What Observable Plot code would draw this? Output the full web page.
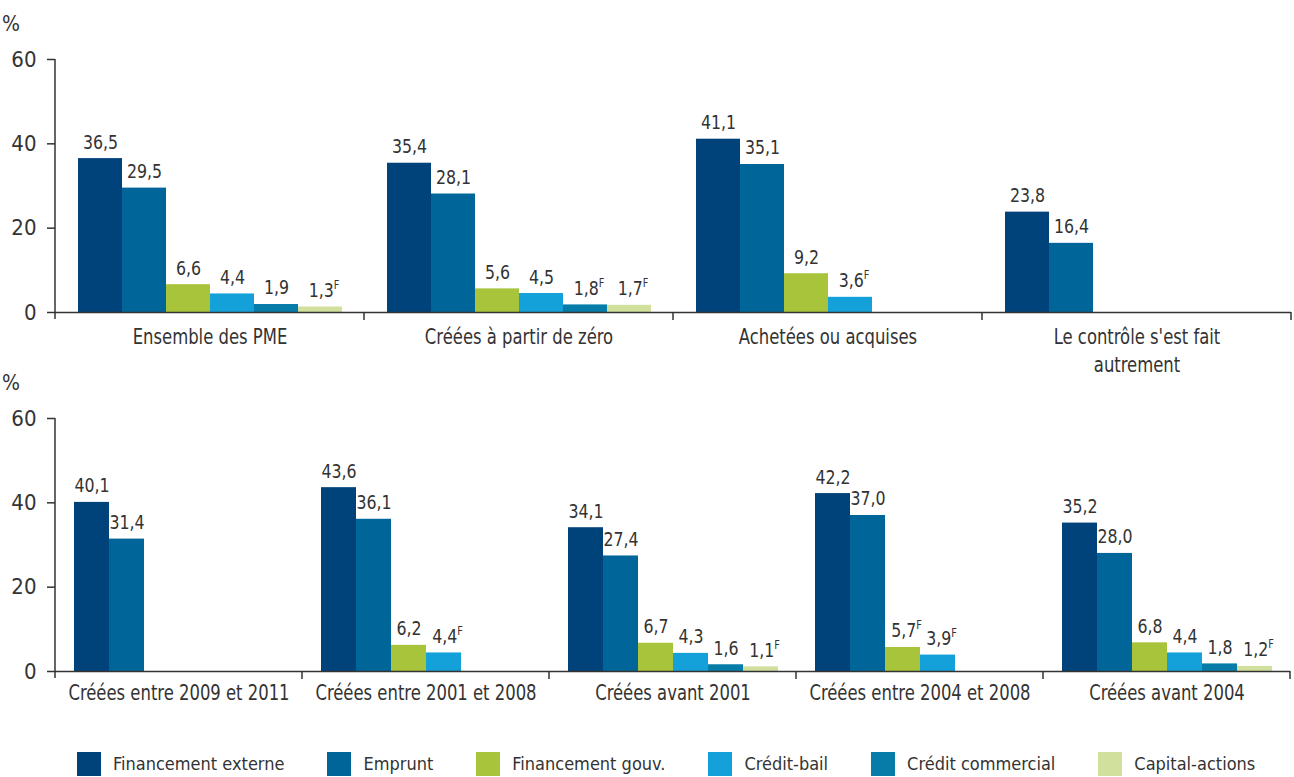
<!DOCTYPE html>
<html><head><meta charset="utf-8">
<script src="https://cdn.jsdelivr.net/npm/d3@7"></script>
<script src="https://cdn.jsdelivr.net/npm/@observablehq/plot@0.6"></script>
<style>
html,body{margin:0;padding:0;background:#fff;}
#wrap{width:1294px;height:777px;overflow:hidden;position:relative;background:#fff;}
#wrap svg{display:block}
#legend{position:absolute;left:0;top:747px;width:1400px;}
.leg-swatches{margin:0 !important;padding-left:77px;}
.leg-swatches-wrap{flex-wrap:nowrap !important;}
.leg-swatches-wrap .leg-swatch{margin-right:43px !important;white-space:nowrap;}
.leg-swatch > svg{margin-right:12px !important;}
</style>
</head><body><div id="wrap"><div id="c1"></div><div id="c2"></div><div id="legend"></div></div>
<script>
const FONT = '"Liberation Sans Narrow", "DejaVu Sans Condensed", "Roboto Condensed", sans-serif';
const INK = "#333333";

const series = ["Financement externe", "Emprunt", "Financement gouv.", "Crédit-bail", "Crédit commercial", "Capital-actions"];
const colors = ["#00427a", "#00669a", "#a8c43b", "#14a1da", "#087ca8", "#d1e09c"];
const yTicks = [0, 20, 40, 60];

// Top panel
const topGroups = ["Ensemble des PME", "Créées à partir de zéro", "Achetées ou acquises", "Le contrôle s'est fait\nautrement"];
const topValues = [
  [36.5, 29.5, 6.6, 4.4, 1.9, 1.3],
  [35.4, 28.1, 5.6, 4.5, 1.8, 1.7],
  [41.1, 35.1, 9.2, 3.6, null, null],
  [23.8, 16.4, null, null, null, null]
];
const topFlags = [
  [0, 0, 0, 0, 0, 1],
  [0, 0, 0, 0, 1, 1],
  [0, 0, 0, 1, 0, 0],
  [0, 0, 0, 0, 0, 0]
];

// Bottom panel
const bottomGroups = ["Créées entre 2009 et 2011", "Créées entre 2001 et 2008", "Créées avant 2001", "Créées entre 2004 et 2008", "Créées avant 2004"];
const bottomValues = [
  [40.1, 31.4, null, null, null, null],
  [43.6, 36.1, 6.2, 4.4, null, null],
  [34.1, 27.4, 6.7, 4.3, 1.6, 1.1],
  [42.2, 37.0, 5.7, 3.9, null, null],
  [35.2, 28.0, 6.8, 4.4, 1.8, 1.2]
];
const bottomFlags = [
  [0, 0, 0, 0, 0, 0],
  [0, 0, 0, 1, 0, 0],
  [0, 0, 0, 0, 0, 1],
  [0, 0, 1, 1, 0, 0],
  [0, 0, 0, 0, 0, 1]
];

function table(groups, values, flags) {
  const rows = [];
  groups.forEach((g, gi) => series.forEach((s, si) => {
    const v = values[gi][si];
    if (v != null) rows.push({group: g, series: s, value: v, flag: flags[gi][si]});
  }));
  return rows;
}
const fmt = v => v.toFixed(1).replace(".", ",");

// condense text horizontally (keeps glyph height, narrows width like the condensed face of the original)
function squeeze(el, s) {
  let tr = el.getAttribute("transform") || "";
  const x = el.getAttribute("x");
  if (x != null && !isNaN(+x)) {
    tr += ` translate(${x},0)`;
    el.removeAttribute("x");
  }
  el.setAttribute("transform", tr + ` scale(${s},1)`);
}

function panel(groups, data, opts) {
  const chart = Plot.plot({
    width: 1294,
    height: opts.height,
    marginLeft: 53, marginRight: 2, marginTop: opts.marginTop, marginBottom: opts.height - opts.marginTop - 253,
    style: {fontFamily: FONT, fontSize: "21px", color: INK, background: "white", overflow: "visible"},
    fx: {domain: groups, padding: 0, label: null},
    x: {domain: series, paddingInner: 0, paddingOuter: 0.5, axis: null},
    y: {domain: [0, 60], axis: null},
    color: {domain: series, range: colors},
    marks: [
      Plot.axisY({ticks: yTicks, tickSize: 8, tickPadding: 11, fontSize: 22, label: null, anchor: "left", stroke: INK, strokeWidth: 1.5, fill: INK}),
      Plot.axisFx({anchor: "bottom", tickSize: 0, tickPadding: opts.labelPad, fontSize: 21, lineHeight: 1.33, label: null, fill: INK}),
      Plot.barY(data, {fx: "group", x: "series", y: "value", fill: "series"}),
      Plot.ruleY([0], {stroke: INK, strokeWidth: 1.5}),
      Plot.text(data, {fx: "group", x: "series", y: "value", text: d => fmt(d.value) + (d.flag ? "^F" : ""), lineAnchor: "bottom", dy: -10, fontSize: 19.5, fill: INK})
    ]
  });
  const svg = d3.select(chart);
  const fx = chart.scale("fx");
  const y = chart.scale("y");
  const y0 = y.apply(0), yTop = y.apply(60);
  const x0 = fx.apply(groups[0]);
  svg.append("line").attr("x1", x0).attr("x2", x0).attr("y1", yTop).attr("y2", y0 + 7)
    .attr("stroke", INK).attr("stroke-width", 1.5);
  groups.forEach(g => {
    const xe = fx.apply(g) + fx.bandwidth;
    svg.append("line").attr("x1", xe).attr("x2", xe).attr("y1", y0).attr("y2", y0 + 8)
      .attr("stroke", INK).attr("stroke-width", 1.5);
  });
  svg.append("text").attr("x", 11).attr("y", opts.pctY).attr("font-size", 21).attr("fill", INK)
    .attr("font-family", FONT).text("%");
  svg.selectAll("text").each(function() {
    const t = this.textContent;
    if (t.endsWith("^F")) {
      this.textContent = t.slice(0, -2);
      d3.select(this).append("tspan").attr("dy", -8).attr("font-size", 12).text("F");
      d3.select(this).attr("dx", 4);
    }
  });
  svg.selectAll('g[aria-label="fx-axis tick label"] text').each(function() { squeeze(this, 0.87); });
  svg.selectAll('g[aria-label="text"] text').each(function() { squeeze(this, 0.9); });
  return chart;
}

document.getElementById("c1").appendChild(panel(topGroups, table(topGroups, topValues, topFlags), {height: 372, marginTop: 59, labelPad: 12, pctY: 31}));
document.getElementById("c2").appendChild(panel(bottomGroups, table(bottomGroups, bottomValues, bottomFlags), {height: 348, marginTop: 46, labelPad: 9, pctY: 18}));

const leg = Plot.legend({
  color: {domain: series, range: colors, type: "ordinal"},
  swatchSize: 24,
  className: "leg",
  style: {fontFamily: FONT, fontSize: "18px", color: INK}
});
document.getElementById("legend").appendChild(leg);
</script></body></html>
